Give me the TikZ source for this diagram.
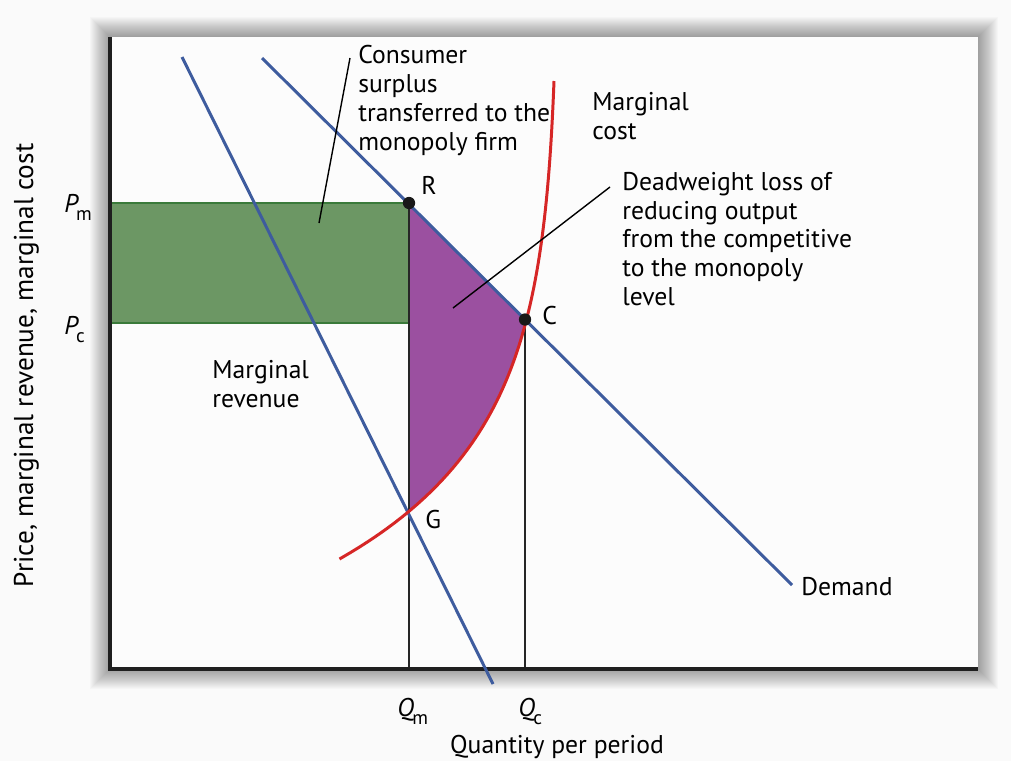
\documentclass[tikz,border=0pt]{standalone}
\usepackage{fontspec}
\setmainfont{PT Sans}
\definecolor{curveblue}{RGB}{62,92,158}
\definecolor{mcred}{RGB}{214,38,38}
\definecolor{surplusgreen}{RGB}{108,151,100}
\definecolor{surplusedge}{RGB}{58,122,58}
\definecolor{losspurple}{RGB}{155,80,160}
\begin{document}
\begin{tikzpicture}[x=0.02cm,y=-0.02cm,font=\fontsize{14.6}{16.5}\selectfont,
    curve/.style={line width=1.7pt},
    guide/.style={line width=0.8pt,black!85},
    dot/.style={circle,fill=black!90,inner sep=0pt,minimum size=7pt},
    lbl/.style={inner sep=0pt,anchor=base west},
    block/.style={inner sep=0pt,anchor=north west,align=left}]

\useasboundingbox (0,0) rectangle (1011,761);
\fill[black!2] (0,0) rectangle (1011,761);

% soft shadow round the panel
\foreach \s in {20,19,...,1}
    \fill[black,opacity=0.018] (110-\s,37-\s) rectangle (978+\s,669+\s);
\fill[black!1] (110,37) rectangle (978,669);

\coordinate (R) at (409,203);
\coordinate (C) at (525,319.5);
\coordinate (G) at (409,511);
\coordinate (Qm) at (409,669);
\coordinate (Qc) at (525,669);

% shaded areas
\fill[surplusgreen,draw=surplusedge,line width=0.8pt] (110,203) rectangle (R |- 0,323);
\fill[losspurple] (R) -- (C) -- plot[domain=238.5:431,samples=30] ({554-4.8*(exp(0.008*\x)-1)},{81+\x}) -- (G) -- cycle;

\draw[guide] (R) -- (Qm);
\draw[guide] (C) -- (Qc);

% axes
\draw[line width=2.3pt,black!88] (110,37) -- (110,669) -- (978,669);

% curves
\draw[curveblue,curve] (262,58) -- (792,585);
\draw[curveblue,curve] (182,57) -- (493,684);
\draw[mcred,curve] plot[domain=0:478,samples=80] ({554-4.8*(exp(0.008*\x)-1)},{81+\x});

\node[dot] (Rdot) at (R) {};
\node[dot] (Cdot) at (C) {};

% leaders
\coordinate (csTip) at (319,223);
\coordinate (csEnd) at (350,58);
\coordinate (dwTip) at (453,308);
\coordinate (dwEnd) at (610,187);
\draw[line width=0.8pt] (csEnd) -- (csTip);
\draw[line width=0.8pt] (dwEnd) -- (dwTip);

% labels
\node[lbl] (Rlab) at (421,194) {R};
\node[lbl] (Clab) at (542,324) {C};
\node[lbl] (Glab) at (425,528) {G};
\node[block] (cs) at (358,44.5) {Consumer\\surplus\\transferred to the\\monopoly firm};
\node[block] (mc) at (592,91.5) {Marginal\\cost};
\node[block] (dw) at (622,171.5) {Deadweight loss of\\reducing output\\from the competitive\\to the monopoly\\level};
\node[block] (mr) at (212,359.5) {Marginal\\revenue};
\node[lbl] (dem) at (801,595) {Demand};

\node[lbl] (Pm) at (64,212) {\textit{P}\kern-1.5pt\raisebox{-5pt}{\fontsize{11}{11}\selectfont m}};
\node[lbl] (Pc) at (64,334) {\textit{P}\kern-1.5pt\raisebox{-5pt}{\fontsize{11}{11}\selectfont c}};
\node[lbl] (Qmlab) at (397,716) {\textit{Q}\kern-1pt\raisebox{-5pt}{\fontsize{11}{11}\selectfont m}};
\node[lbl] (Qclab) at (518,716) {\textit{Q}\kern-1pt\raisebox{-5pt}{\fontsize{11}{11}\selectfont c}};

\node[inner sep=0pt,anchor=base] (xlab) at (557,753) {Quantity per period};
\node[inner sep=0pt,anchor=base,rotate=90,font=\fontsize{15.5}{17}\selectfont] (ylab) at (33,365.5) {Price, marginal revenue, marginal cost};
\end{tikzpicture}
\end{document}
